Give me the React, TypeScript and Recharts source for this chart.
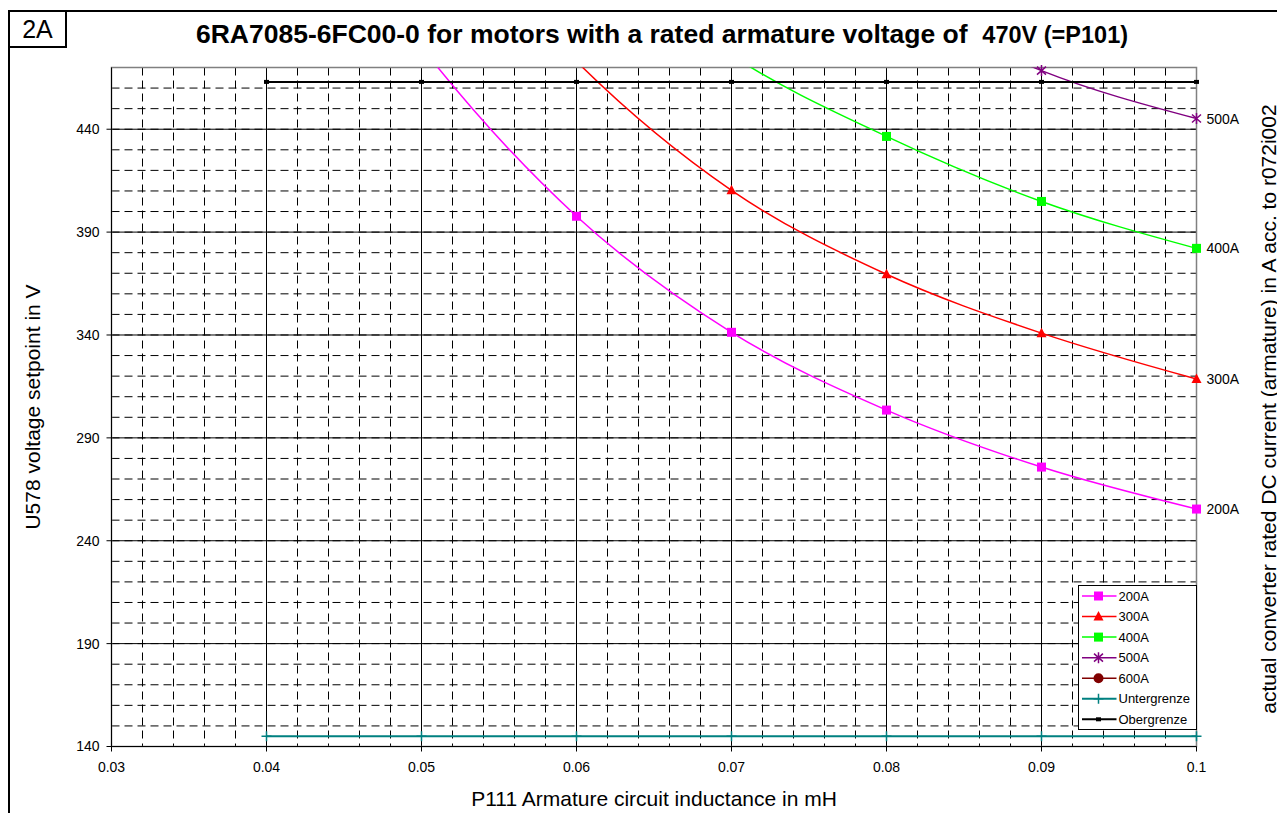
import React from "react";
import { LineChart, Line, XAxis, YAxis, CartesianGrid, ReferenceArea, Legend } from "recharts";

// P111 armature circuit inductance in mH
const inductance = [0.04, 0.05, 0.06, 0.07, 0.08, 0.09, 0.1];

// U578 voltage setpoint in V per converter current (points above 470 V fall outside the plot)
const u200A = [590, 480, 397.7, 341.3, 303.5, 275.8, 255.4];
const u300A = [660, 560, 473, 410.3, 369.5, 340.9, 318.6];
const u400A = [720, 615, 535, 476, 436.5, 404.9, 382.1];
const u500A = [800, 700, 620, 555, 505, 468.5, 445.2];
const u600A = [900, 790, 700, 630, 575, 535, 505];
const untergrenze = [145, 145, 145, 145, 145, 145, 145];
const obergrenze = [463, 463, 463, 463, 463, 463, 463];

const xTicks = [0.03, 0.04, 0.05, 0.06, 0.07, 0.08, 0.09, 0.1];
const yTicks = [140, 190, 240, 290, 340, 390, 440];
const Y_MIN = 140;
const Y_MAX = 470;

const series = [
  { key: "s200", name: "200A", values: u200A, color: "#FF00FF", marker: "square", width: 1.5, endLabel: true },
  { key: "s300", name: "300A", values: u300A, color: "#FF0000", marker: "triangle", width: 1.5, endLabel: true },
  { key: "s400", name: "400A", values: u400A, color: "#00FF00", marker: "square", width: 1.5, endLabel: true },
  { key: "s500", name: "500A", values: u500A, color: "#800080", marker: "star", width: 1.5, endLabel: true },
  { key: "s600", name: "600A", values: u600A, color: "#800000", marker: "circle", width: 1.5, endLabel: true },
  { key: "unter", name: "Untergrenze", values: untergrenze, color: "#008080", marker: "plus", width: 2, endLabel: false },
  { key: "ober", name: "Obergrenze", values: obergrenze, color: "#000000", marker: "dash", width: 2, endLabel: false },
];

const rows = inductance.map((x, i) => {
  const row: Record<string, number | null> = { x };
  series.forEach((s) => {
    row[s.key] = s.values[i];
    row[s.key + "_m"] = s.values[i] <= Y_MAX ? s.values[i] : null;
  });
  return row;
});

// minor grid every 0.002 mH / 10 V
const xMinor = Array.from({ length: 35 }, (_, i) => Math.round((0.03 + 0.002 * (i + 1)) * 1000) / 1000).filter((v) => v < 0.1);
const yMinor = Array.from({ length: 32 }, (_, i) => Y_MIN + 10 * (i + 1)).filter((v) => v < Y_MAX);
const xMajor = [0.04, 0.05, 0.06, 0.07, 0.08, 0.09];
const yMajor = [190, 240, 290, 340, 390, 440];

const FONT = "'Liberation Sans', Arial, sans-serif";

function Marker({ kind, cx, cy, color }: { kind: string; cx: number; cy: number; color: string }) {
  switch (kind) {
    case "square":
      return <rect x={cx - 4.5} y={cy - 4.5} width={9} height={9} fill={color} />;
    case "triangle":
      return <path d={`M${cx},${cy - 5.5}L${cx + 5},${cy + 4}L${cx - 5},${cy + 4}Z`} fill={color} />;
    case "star":
      return (
        <path
          d={`M${cx - 4.5},${cy - 4}L${cx + 4.5},${cy + 4}M${cx - 4.5},${cy + 4}L${cx + 4.5},${cy - 4}M${cx},${cy - 5.5}L${cx},${cy + 5.5}`}
          stroke={color}
          strokeWidth={1.5}
          fill="none"
        />
      );
    case "circle":
      return <circle cx={cx} cy={cy} r={5} fill={color} />;
    case "plus":
      return <path d={`M${cx - 5},${cy}L${cx + 5},${cy}M${cx},${cy - 5}L${cx},${cy + 5}`} stroke={color} strokeWidth={1.5} />;
    default:
      return <rect x={cx - 2.5} y={cy - 2} width={5} height={4} fill={color} />;
  }
}

const renderLegend = () => (
  <svg width={119} height={145} style={{ display: "block" }}>
    <rect x={0.5} y={0.5} width={118} height={144} fill="#fff" stroke="#000" strokeWidth={1} />
    {series.map((s, i) => {
      const cy = 11 + i * 20.55;
      return (
        <g key={s.key}>
          <line x1={4} x2={38.5} y1={cy} y2={cy} stroke={s.color} strokeWidth={s.width} />
          <Marker kind={s.marker} cx={20.5} cy={cy} color={s.color} />
          <text x={40.5} y={cy + 4.5} fontSize={13} fontFamily={FONT} fill="#000">
            {s.name}
          </text>
        </g>
      );
    })}
  </svg>
);

export default function App() {
  return (
    <div style={{ position: "relative", width: 1277, height: 805, fontFamily: FONT, background: "#fff" }}>
      {/* outer frame */}
      <div style={{ position: "absolute", left: 0, top: 2, right: 0, bottom: 0, borderLeft: "2px solid #000", borderTop: "2px solid #000" }} />
      <div
        style={{
          position: "absolute",
          left: 0,
          top: 2,
          width: 59,
          height: 38,
          boxSizing: "border-box",
          border: "2px solid #000",
          fontSize: 25,
          lineHeight: "34px",
          textAlign: "center",
        }}
      >
        2A
      </div>
      <div style={{ position: "absolute", left: 0, width: 1308, top: 11, textAlign: "center", fontWeight: "bold", fontSize: 26.5, whiteSpace: "pre" }}>
        {"6RA7085-6FC00-0 for motors with a rated armature voltage of  "}
        <span style={{ fontSize: 23.5 }}>470V (=P101)</span>
      </div>

      <LineChart
        width={1277}
        height={805}
        data={rows}
        margin={{ top: 59.5, right: 88.5, bottom: 26.5, left: 43.5 }}
        style={{ position: "absolute", left: 0, top: 0 }}
      >
        <CartesianGrid horizontalValues={yMinor} verticalValues={xMinor} stroke="#000" strokeDasharray="8 5" />
        <CartesianGrid horizontalValues={yMajor} verticalValues={xMajor} stroke="#000" />
        <ReferenceArea x1={0.03} x2={0.1} y1={Y_MIN} y2={Y_MAX} fill="none" stroke="#808080" strokeWidth={1.5} />
        <XAxis
          dataKey="x"
          type="number"
          domain={[0.03, 0.1]}
          ticks={xTicks}
          interval={0}
          height={40}
          tickSize={5}
          tickMargin={11}
          stroke="#000"
          tick={{ fill: "#000", fontSize: 14, fontFamily: FONT }}
          tickFormatter={(v: number) => String(v)}
        />
        <YAxis
          type="number"
          domain={[Y_MIN, Y_MAX]}
          allowDataOverflow
          ticks={yTicks}
          interval={0}
          width={60}
          tickSize={5}
          tickMargin={7}
          stroke="#000"
          tick={{ fill: "#000", fontSize: 14, fontFamily: FONT }}
        />
        <YAxis yAxisId="m" type="number" domain={[Y_MIN, Y_MAX]} hide />
        {series.map((s) => (
          <Line
            key={s.key}
            dataKey={s.key}
            name={s.name}
            type="monotone"
            stroke={s.color}
            strokeWidth={s.width}
            dot={false}
            activeDot={false}
            isAnimationActive={false}
          />
        ))}
        {series.map((s) => (
          <Line
            key={s.key + "_m"}
            yAxisId="m"
            dataKey={s.key + "_m"}
            stroke="none"
            legendType="none"
            activeDot={false}
            isAnimationActive={false}
            dot={(p: any) =>
              p.cx == null || p.cy == null || p.value == null ? (
                <g key={p.key} />
              ) : (
                <g key={p.key}>
                  <Marker kind={s.marker} cx={p.cx} cy={p.cy} color={s.color} />
                </g>
              )
            }
            label={(p: any) =>
              s.endLabel && p.index === inductance.length - 1 && p.value != null ? (
                <text key={`l-${s.key}`} x={p.x + 10} y={p.y} dy="0.36em" fontSize={14} fontFamily={FONT} fill="#000">
                  {s.name}
                </text>
              ) : (
                <g key={`l-${s.key}-${p.index}`} />
              )
            }
          />
        ))}
        <Legend
          layout="vertical"
          align="center"
          verticalAlign="middle"
          content={renderLegend}
          wrapperStyle={{ left: 1069.5, top: 576.5, width: 119, height: 145 }}
        />
      </LineChart>

      {/* axis titles */}
      <div style={{ position: "absolute", left: 0, width: 1292, top: 779, textAlign: "center", fontSize: 21 }}>
        P111 Armature circuit inductance in mH
      </div>
      <div
        style={{
          position: "absolute",
          left: 25,
          top: 399,
          transform: "translate(-50%, -50%) rotate(-90deg)",
          whiteSpace: "nowrap",
          fontSize: 21,
        }}
      >
        U578 voltage setpoint in V
      </div>
      <div
        style={{
          position: "absolute",
          left: 1261,
          top: 401,
          transform: "translate(-50%, -50%) rotate(-90deg)",
          whiteSpace: "nowrap",
          fontSize: 21,
          lineHeight: "24px",
        }}
      >
        actual converter rated DC current (armature) in A acc. to r072i002
      </div>
    </div>
  );
}
